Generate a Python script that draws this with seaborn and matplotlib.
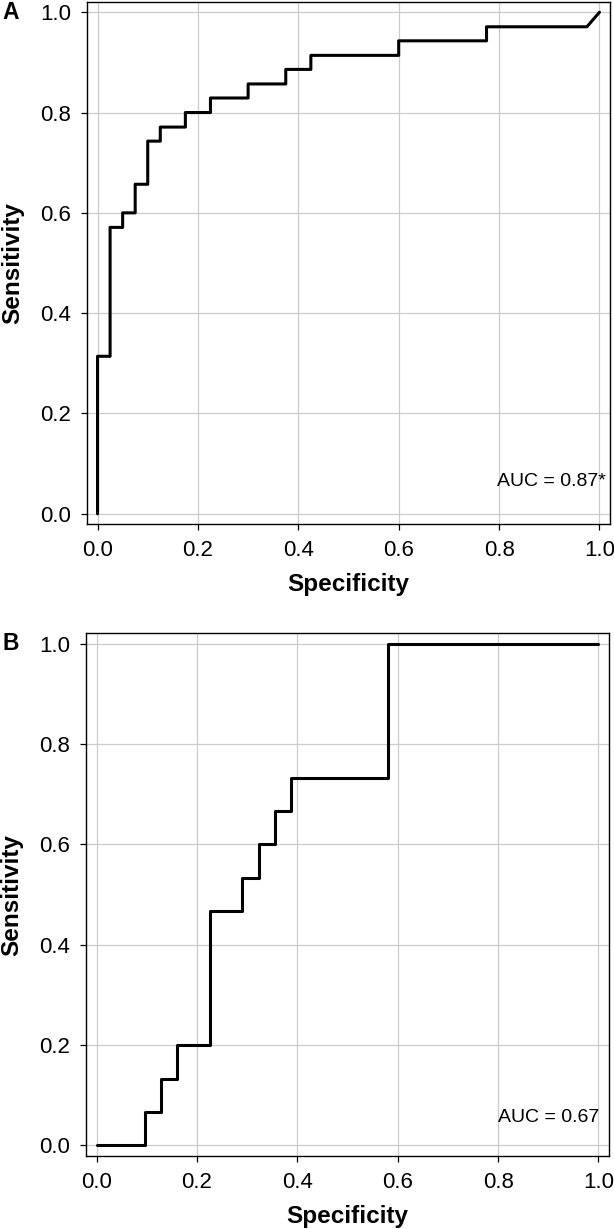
import matplotlib
matplotlib.use("Agg")
import matplotlib.pyplot as plt
import seaborn as sns
import pandas as pd

# ROC curve points
spec_a = [0.0, 0.0, 0.025, 0.025, 0.05, 0.05, 0.075, 0.075, 0.1, 0.1, 0.125, 0.125,
          0.175, 0.175, 0.225, 0.225, 0.3, 0.3, 0.375, 0.375, 0.425, 0.425,
          0.6, 0.6, 0.775, 0.775, 0.975, 1.0]
sens_a = [0.0, 0.314, 0.314, 0.571, 0.571, 0.6, 0.6, 0.657, 0.657, 0.743, 0.743, 0.771,
          0.771, 0.8, 0.8, 0.829, 0.829, 0.857, 0.857, 0.886, 0.886, 0.914,
          0.914, 0.943, 0.943, 0.971, 0.971, 1.0]

spec_b = [0.0, 0.097, 0.097, 0.129, 0.129, 0.161, 0.161, 0.226, 0.226, 0.290, 0.290,
          0.323, 0.323, 0.355, 0.355, 0.387, 0.387, 0.581, 0.581, 1.0]
sens_b = [0.0, 0.0, 0.067, 0.067, 0.133, 0.133, 0.2, 0.2, 0.467, 0.467, 0.533,
          0.533, 0.6, 0.6, 0.667, 0.667, 0.733, 0.733, 1.0, 1.0]

panels = ["A", "B"]
auc_labels = ["AUC = 0.87*", "AUC = 0.67"]
ticks = [0.0, 0.2, 0.4, 0.6, 0.8, 1.0]
tick_labels = ["0.0", "0.2", "0.4", "0.6", "0.8", "1.0"]

sns.set_style("whitegrid")
plt.rcParams['font.family'] = ['Liberation Sans', 'DejaVu Sans']
plt.rcParams['text.color'] = 'black'
plt.rcParams['axes.labelcolor'] = 'black'

fig = plt.figure(figsize=(6.14, 12.29), dpi=100)
W, H = 614, 1229

# axes boxes in pixels: left, top, right, bottom
boxes = [(87, 1.7, 610, 524.3), (86, 633.3, 609, 1156)]
data = [(spec_a, sens_a), (spec_b, sens_b)]
auc_pos = [(0.796, 0.055), (0.8, 0.046)]

for i, (l, t, r, b) in enumerate(boxes):
    ax = fig.add_axes([l / W, 1 - b / H, (r - l) / W, (b - t) / H])
    df = pd.DataFrame({"Specificity": data[i][0], "Sensitivity": data[i][1]})
    sns.lineplot(x="Specificity", y="Sensitivity", data=df, sort=False,
                 estimator=None, color="black", linewidth=2.2, ax=ax)
    ax.set_xlim(-0.021, 1.021)
    ax.set_ylim(-0.021, 1.021)
    ax.set_xticks(ticks)
    ax.set_yticks(ticks)
    ax.set_xticklabels(tick_labels)
    ax.set_yticklabels(tick_labels)
    ax.grid(True, color="#cccccc", linewidth=0.9)
    for s in ax.spines.values():
        s.set_color("black")
        s.set_linewidth(1.0)
        s.set_visible(True)
    ax.tick_params(axis="both", which="major", direction="out", length=4.5,
                   width=0.9, color="black", labelsize=16, labelcolor="black",
                   pad=7, left=True, bottom=True)
    ax.set_xlabel("Specificity", fontsize=17.5, fontweight="bold", color="black")
    ax.set_ylabel("Sensitivity", fontsize=17.5, fontweight="bold", color="black")
    ax.xaxis.set_label_coords(0.5, -0.093)
    ax.yaxis.set_label_coords(-0.12, 0.5)
    ax.text(auc_pos[i][0], auc_pos[i][1], auc_labels[i], fontsize=14,
            ha="left", va="baseline", color="black")
    fig.text(11 / W, 1 - (t + 10.5) / H, panels[i], fontsize=16.5,
             fontweight="bold", ha="center", va="center", color="black")

fig.savefig("out.png", dpi=100)
